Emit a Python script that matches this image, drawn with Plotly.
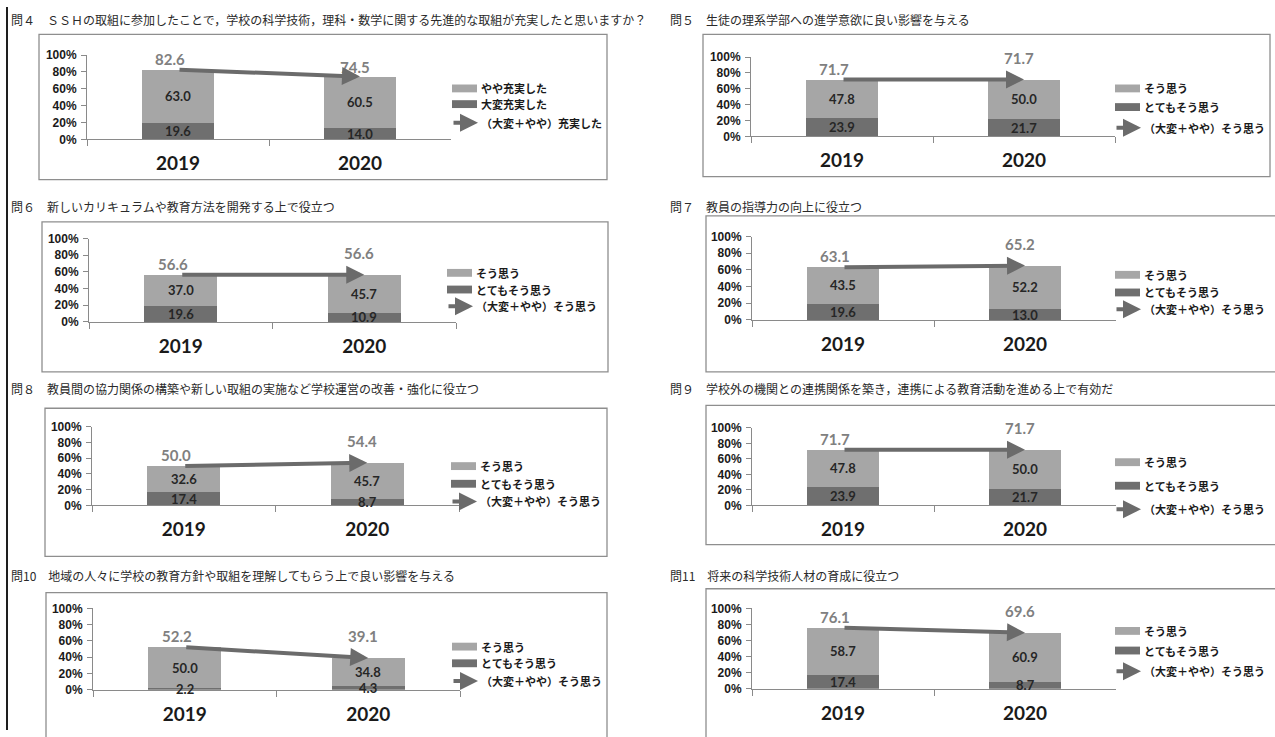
import plotly.graph_objects as go

W, H = 1275, 737

# ---- data -------------------------------------------------------------
categories = ["2019", "2020"]

question_titles = [
    "問４　ＳＳＨの取組に参加したことで，学校の科学技術，理科・数学に関する先進的な取組が充実したと思いますか？",
    "問５　生徒の理系学部への進学意欲に良い影響を与える",
    "問６　新しいカリキュラムや教育方法を開発する上で役立つ",
    "問７　教員の指導力の向上に役立つ",
    "問８　教員間の協力関係の構築や新しい取組の実施など学校運営の改善・強化に役立つ",
    "問９　学校外の機関との連携関係を築き，連携による教育活動を進める上で有効だ",
    "問10　地域の人々に学校の教育方針や取組を理解してもらう上で良い影響を与える",
    "問11　将来の科学技術人材の育成に役立つ",
]

# "とてもそう思う" / "大変充実した" share (%)
strong_share = [
    [19.6, 14.0],
    [23.9, 21.7],
    [19.6, 10.9],
    [19.6, 13.0],
    [17.4, 8.7],
    [23.9, 21.7],
    [2.2, 4.3],
    [17.4, 8.7],
]

# "そう思う" / "やや充実した" share (%)
mild_share = [
    [63.0, 60.5],
    [47.8, 50.0],
    [37.0, 45.7],
    [43.5, 52.2],
    [32.6, 45.7],
    [47.8, 50.0],
    [50.0, 34.8],
    [58.7, 60.9],
]

legend_mild = ["やや充実した"] + ["そう思う"] * 7
legend_strong = ["大変充実した"] + ["とてもそう思う"] * 7
legend_total = ["（大変＋やや）充実した"] + ["（大変＋やや）そう思う"] * 7

yticks = [0, 20, 40, 60, 80, 100]
ytick_labels = [f"{v}%" for v in yticks]

# ---- layout of each panel (pixels) -----------------------------------
# box: frame of the chart; plot: x0, x1, y(100%), y(0%); legend: x, row ys; title: x, y
panels = [
    dict(box=(39, 28, 607, 176), plot=(87, 451, 49, 135), leg=(452, (83, 99, 118)), title=(9, 13)),
    dict(box=(703, 28, 1270, 173), plot=(751, 1115, 51, 132), leg=(1115, (83, 102, 123)), title=(668, 13)),
    dict(box=(42, 219, 608, 372), plot=(89, 456, 236, 321), leg=(447, (271, 288, 305)), title=(9, 203)),
    dict(box=(706, 213, 1290, 372), plot=(752, 1116, 234, 319), leg=(1115, (273, 291, 308)), title=(668, 203)),
    dict(box=(45, 409, 607, 560), plot=(92, 459, 428, 508), leg=(451, (468, 486, 504)), title=(9, 389)),
    dict(box=(706, 406, 1290, 548), plot=(752, 1116, 429, 508), leg=(1115, (464, 488, 512)), title=(668, 389)),
    dict(box=(46, 597, 607, 750), plot=(93, 460, 613, 696), leg=(452, (652, 669, 687)), title=(9, 579)),
    dict(box=(706, 593, 1290, 750), plot=(752, 1116, 613, 695), leg=(1115, (636, 656, 677)), title=(668, 579)),
]

LIGHT = "#a6a6a6"
DARK = "#6f6f6f"
ARROW = "#6b6b6b"
AXIS = "#8a8a8a"
FRAME = "#8e8e8e"
TOTAL_TXT = "#808080"

JP = "Noto Sans CJK JP"
NUM = "Lato"


def fx(px):
    return px / W


def fy(py):
    return 1 - py / H


fig = go.Figure()
shapes = []
annotations = []
layout_axes = {}

# page rule on the left edge
shapes.append(dict(type="line", xref="paper", yref="paper", x0=fx(7), x1=fx(7), y0=0, y1=1,
                   line=dict(color="#1e1e1e", width=2)))

for i, p in enumerate(panels):
    n = i + 1
    xa = "x" if n == 1 else f"x{n}"
    ya = "y" if n == 1 else f"y{n}"
    xkey = "xaxis" if n == 1 else f"xaxis{n}"
    ykey = "yaxis" if n == 1 else f"yaxis{n}"
    px0, px1, ptop, pbot = p["plot"]

    strong = strong_share[i]
    mild = mild_share[i]
    totals = [round(a + b, 1) for a, b in zip(strong, mild)]

    fig.add_trace(go.Bar(x=categories, y=strong, xaxis=xa, yaxis=ya, width=0.4,
                         marker=dict(color=DARK, line=dict(width=0)),
                         showlegend=False, hoverinfo="skip"))
    fig.add_trace(go.Bar(x=categories, y=mild, xaxis=xa, yaxis=ya, width=0.4,
                         marker=dict(color=LIGHT, line=dict(width=0)),
                         showlegend=False, hoverinfo="skip"))

    layout_axes[xkey] = dict(
        domain=[fx(px0), fx(px1)], anchor=ya, type="category",
        categoryorder="array", categoryarray=categories, range=[-0.5, 1.5],
        tickson="boundaries", ticks="outside", ticklen=6, tickcolor=AXIS,
        showline=True, linecolor=AXIS, linewidth=1, showgrid=False, zeroline=False,
        tickfont=dict(family=NUM, size=19, color="#1a1a1a", weight="bold"),
        ticklabelstandoff=7, fixedrange=True,
    )
    layout_axes[ykey] = dict(
        domain=[fy(pbot), fy(ptop)], anchor=xa, range=[0, 100],
        tickmode="array", tickvals=yticks, ticktext=ytick_labels,
        ticks="outside", ticklen=5, tickcolor=AXIS, showline=True, linecolor=AXIS,
        linewidth=1, showgrid=False, zeroline=False,
        tickfont=dict(family="Liberation Sans", size=12, color="#1a1a1a", weight="bold"),
        ticklabelstandoff=2, fixedrange=True,
    )

    # segment values
    for k in range(2):
        annotations.append(dict(x=k, y=strong[k] / 2, xref=xa, yref=ya, text=f"{strong[k]:.1f}",
                                showarrow=False, font=dict(family=NUM, size=13, color="#262626", weight="bold"),
                                xanchor="center", yanchor="middle"))
        annotations.append(dict(x=k, y=strong[k] + mild[k] / 2, xref=xa, yref=ya, text=f"{mild[k]:.1f}",
                                showarrow=False, font=dict(family=NUM, size=13, color="#262626", weight="bold"),
                                xanchor="center", yanchor="middle"))

    # totals above the bars
    shifts = [(-8, 11), (-5, 10 if i == 0 else 22)]
    for k in range(2):
        annotations.append(dict(x=k, y=totals[k], xref=xa, yref=ya, text=f"{totals[k]:.1f}",
                                showarrow=False, font=dict(family=NUM, size=15, color=TOTAL_TXT, weight="bold"),
                                xanchor="center", yanchor="middle",
                                xshift=shifts[k][0], yshift=shifts[k][1]))

    # trend arrow between the two totals
    annotations.append(dict(x=1, y=totals[1], ax=0, ay=totals[0], xref=xa, yref=ya,
                            axref=xa, ayref=ya, text="", showarrow=True, arrowhead=2,
                            arrowsize=0.9, arrowwidth=4, arrowcolor=ARROW,
                            standoff=0, startstandoff=0))

    # frame
    bx0, by0, bx1, by1 = p["box"]
    shapes.append(dict(type="rect", xref="paper", yref="paper",
                       x0=fx(bx0), x1=fx(bx1), y0=fy(by1), y1=fy(by0),
                       line=dict(color=FRAME, width=1.3), fillcolor="rgba(0,0,0,0)"))

    # title
    tx, ty = p["title"]
    annotations.append(dict(x=fx(tx), y=fy(ty), xref="paper", yref="paper", text=question_titles[i],
                            showarrow=False, xanchor="left", yanchor="middle",
                            font=dict(family=JP, size=12, color="#2a2a2a")))

    # legend
    lx, (l1, l2, l3) = p["leg"]
    for ly, col, lab in ((l1, LIGHT, legend_mild[i]), (l2, DARK, legend_strong[i])):
        shapes.append(dict(type="rect", xref="paper", yref="paper",
                           x0=fx(lx), x1=fx(lx + 25), y0=fy(ly + 4), y1=fy(ly - 4),
                           line=dict(width=0), fillcolor=col))
        annotations.append(dict(x=fx(lx + 27), y=fy(ly), xref="paper", yref="paper", text=lab,
                                showarrow=False, xanchor="left", yanchor="middle",
                                font=dict(family=JP, size=11, color="#1a1a1a", weight="bold")))
    annotations.append(dict(x=fx(lx + 26), y=fy(l3), xref="paper", yref="paper", ax=-26, ay=0,
                            text="", showarrow=True, arrowhead=2, arrowsize=0.9, arrowwidth=4,
                            arrowcolor=ARROW, standoff=0, startstandoff=0))
    annotations.append(dict(x=fx(lx + 27), y=fy(l3), xref="paper", yref="paper", text=legend_total[i],
                            showarrow=False, xanchor="left", yanchor="middle",
                            font=dict(family=JP, size=11, color="#1a1a1a", weight="bold")))

fig.update_layout(
    width=W, height=H, margin=dict(l=0, r=0, t=0, b=0),
    paper_bgcolor="white", plot_bgcolor="white", barmode="stack",
    shapes=shapes, annotations=annotations, showlegend=False,
    **layout_axes,
)

fig.write_html("out.html", config={"displayModeBar": False})
